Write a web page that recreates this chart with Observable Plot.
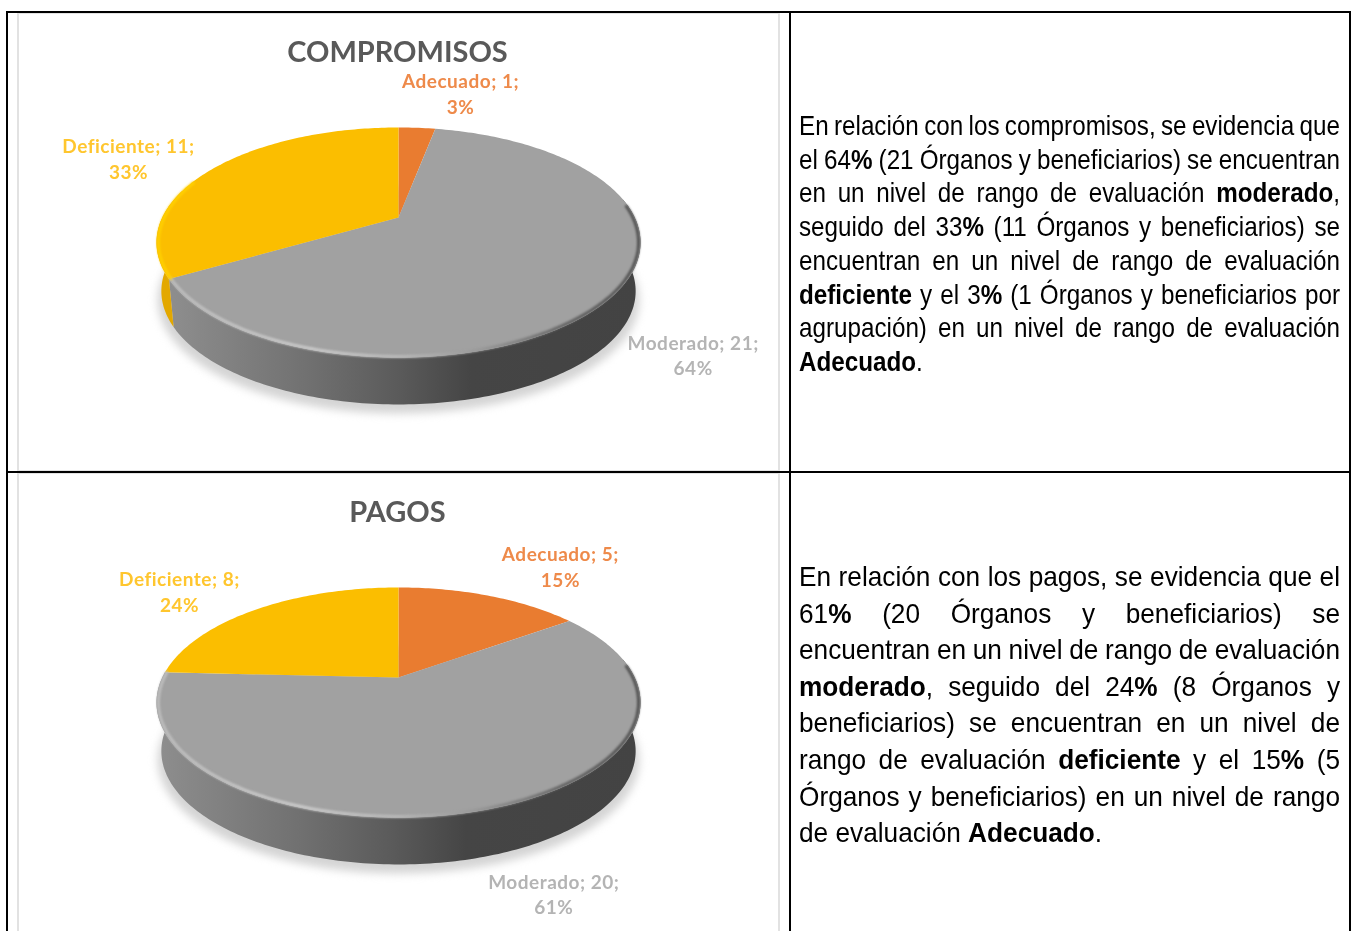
<!DOCTYPE html>
<html lang="es"><head><meta charset="utf-8">
<script src="https://cdn.jsdelivr.net/npm/d3@7"></script>
<script src="https://cdn.jsdelivr.net/npm/@observablehq/plot@0.6"></script>
<style>
html,body{margin:0;padding:0;background:#fff;overflow:hidden}
#page{position:relative;width:1351px;height:931px;overflow:hidden;background:#fff}
.rule{position:absolute;background:#000}
.frame{position:absolute;box-sizing:border-box;border:2px solid #e2e2e2}
.txt{position:absolute;left:799px;transform-origin:0 0;font-family:"Liberation Sans",sans-serif;color:#000;filter:blur(.3px)}
.txt div{text-align:justify;text-align-last:justify;white-space:nowrap}
.txt div.last{text-align-last:left}
</style></head><body>
<div id="page"></div>
<script>
const categories = ["Adecuado", "Moderado", "Deficiente"];
const compromisosValues = [1, 21, 11];
const compromisosPct = [3, 64, 33];
const pagosValues = [5, 20, 8];
const pagosPct = [15, 61, 24];
const sliceColors = ["#E97C30", "#A1A1A1", "#FBBE00"];
const labelColors = ["#EE8A4A", "#B4B4B4", "#FFC62E"];
const compromisosLabelShift = [[43.6, 34.8], [74.5, -64], [-85.5, 10.1]];
const pagosLabelShift = [[71.2, 29.8], [71.2, -82.8], [-78.2, 17.9]];

const compromisosText = [
 'En relación con los compromisos, se evidencia que',
 'el 64<b>%</b> (21 Órganos y beneficiarios) se encuentran',
 'en un nivel de rango de evaluación <b>moderado</b>,',
 'seguido del 33<b>%</b> (11 Órganos y beneficiarios) se',
 'encuentran en un nivel de rango de evaluación',
 '<b>deficiente</b> y el 3<b>%</b> (1 Órganos y beneficiarios por',
 'agrupación) en un nivel de rango de evaluación',
 '<b>Adecuado</b>.'];
const pagosText = [
 'En relación con los pagos, se evidencia que el',
 '61<b>%</b> (20 Órganos y beneficiarios) se',
 'encuentran en un nivel de rango de evaluación',
 '<b>moderado</b>, seguido del 24<b>%</b> (8 Órganos y',
 'beneficiarios) se encuentran en un nivel de',
 'rango de evaluación <b>deficiente</b> y el 15<b>%</b> (5',
 'Órganos y beneficiarios) en un nivel de rango',
 'de evaluación <b>Adecuado</b>.'];

// perspective disc: x/y are in plot units (1 unit = 1px), origin at the pie's apex
const A = 236.2, B = 109.6, K = 0.2174, DROP = 49, SHRINK = 0.98;
const rad = t => t * Math.PI / 180;
function proj(t, bottom = false, scale = 1) {
  const X = Math.sin(rad(t)), Y = Math.cos(rad(t)), w = 1 + K * Y;
  const s = scale;
  return {x: (bottom ? SHRINK : 1) * s * A * X / w, y: (bottom ? 0.985 : 1) * s * B * Y / w - (bottom ? DROP : 0)};
}
const arc = (a, b, bottom, scale) => {
  const n = Math.max(2, Math.ceil(Math.abs(b - a)));
  return d3.range(n + 1).map(i => proj(a + (b - a) * i / n, bottom, scale));
};
const blur = r => (i, s, v, d, c, next) => { const g = next(i, s, v, d, c); g.style.filter = `blur(${r}px)`; return g; };
const spaced = (i, s, v, d, c, next) => { const g = next(i, s, v, d, c); g.style.letterSpacing = ".5px"; return g; };

function pie(title, values, pct, shifts, id, top) {
  const total = d3.sum(values);
  const cum = d3.cumsum(values);
  const ang = values.map((v, i) => [(cum[i] - v) / total * 360, cum[i] / total * 360]);
  const marks = [];
  marks.push(() => {
    const ns = "http://www.w3.org/2000/svg";
    const defs = document.createElementNS(ns, "defs");
    const grad = (gid, stops) => {
      const g = document.createElementNS(ns, "linearGradient");
      g.setAttribute("id", gid);
      stops.forEach(([o, c]) => {
        const st = document.createElementNS(ns, "stop");
        st.setAttribute("offset", o); st.setAttribute("stop-color", c); g.appendChild(st);
      });
      defs.appendChild(g);
    };
    grad("wall" + id, [[0, "#8e8e8e"], [.3, "#707070"], [.49, "#5a5a5a"], [.64, "#454545"], [1, "#434343"]]);
    grad("rim" + id, [[0, "#bdbdbd"], [.3, "#cbcbcb"], [.5, "#b8b8b8"], [.66, "#989898"], [.84, "#626262"], [1, "#505050"]]);
    return defs;
  });
  // soft shadow under the disc
  const shadow = arc(0, 360, true).map(p => ({x: p.x * 1.015, y: p.y - 9}));
  marks.push(Plot.line(shadow, {x: "x", y: "y", fill: "#d4d4d4", stroke: "none", render: blur(4)}));
  // side walls
  const gray = ang[1];
  const wallFrom = Math.max(gray[0], 80);
  const rimFrom = Math.max(gray[0], 84);
  marks.push(Plot.line([...arc(wallFrom, gray[1]), ...arc(gray[1], wallFrom, true)],
    {x: "x", y: "y", fill: `url(#wall${id})`, stroke: "none"}));
  if (gray[1] < 262) {
    marks.push(Plot.line([...arc(gray[1], 285), ...arc(285, gray[1], true)],
      {x: "x", y: "y", fill: "#E3A800", stroke: "none"}));
  }
  // top faces
  ang.forEach(([a, b], i) => {
    marks.push(Plot.line([{x: 0, y: 0}, ...arc(a, b)], {x: "x", y: "y", fill: sliceColors[i], stroke: "none"}));
  });
  // bevel along the visible edge, kept just inside the disc
  marks.push(Plot.line(arc(gray[1], rimFrom, false, 0.992), {x: "x", y: "y", stroke: `url(#rim${id})`, strokeWidth: 3, render: blur(1.2)}));
  if (gray[1] < 262) {
    marks.push(Plot.line(arc(gray[1], 290, false, 0.992), {x: "x", y: "y", stroke: "#FFD000", strokeWidth: 3, render: blur(.8)}));
  }
  // labels
  const labels = categories.map((c, i) => {
    const p = proj((ang[i][0] + ang[i][1]) / 2);
    return {x: p.x + shifts[i][0], y: p.y + shifts[i][1], text: `${c}; ${values[i]};\n${pct[i]}%`, color: labelColors[i]};
  });
  marks.push(Plot.text(labels, {x: "x", y: "y", text: "text", fill: "color", fontSize: 19, fontWeight: 700, lineHeight: 1.34, lineAnchor: "middle", textAnchor: "middle", render: spaced}));
  marks.push(Plot.text([title], {x: () => -1, y: () => 164.5, text: d => d, fontSize: 29, fontWeight: 700, fill: "#595959", lineAnchor: "middle", textAnchor: "middle"}));

  return Plot.plot({
    width: 760, height: 458, margin: 0,
    x: {domain: [-380, 380], range: [0, 760], axis: null},
    y: {domain: [204, -254], range: [0, 458], axis: null},
    style: {position: "absolute", left: "18px", top: top + "px", background: "transparent", fontFamily: "Lato, sans-serif", filter: "blur(.45px)"},
    marks
  });
}

const page = document.getElementById("page");
const addDiv = (cls, l, t, w, h) => {
  const e = document.createElement("div");
  e.className = cls;
  e.style.cssText = `left:${l}px;top:${t}px;width:${w}px;height:${h}px`;
  page.appendChild(e);
};
addDiv("frame", 17, 12, 763, 460);
addDiv("frame", 17, 472, 763, 461);
page.appendChild(pie("COMPROMISOS", compromisosValues, compromisosPct, compromisosLabelShift, "a", 13));
page.appendChild(pie("PAGOS", pagosValues, pagosPct, pagosLabelShift, "b", 473));
addDiv("rule", 6, 11, 1345, 2);
addDiv("rule", 7, 471, 1344, 2);
addDiv("rule", 6, 11, 2, 920);
addDiv("rule", 789, 11, 2, 920);
addDiv("rule", 1349, 11, 2, 920);

function block(lines, top, lh, size, sx) {
  const avail = 541 / sx;
  const t = document.createElement("div");
  t.className = "txt";
  t.style.cssText = `top:${top}px;line-height:${lh}px;font-size:${size}px;width:${avail}px;transform:scaleX(${sx})`;
  page.appendChild(t);
  lines.forEach((l, i) => {
    const d = document.createElement("div");
    if (i === lines.length - 1) d.className = "last";
    const s = document.createElement("span");
    s.innerHTML = l;
    d.appendChild(s);
    t.appendChild(d);
    // Word's tight justified lines: squeeze the spaces when the line is too long
    const natural = s.getBoundingClientRect().width / sx;
    const gaps = s.textContent.split(" ").length - 1;
    if (natural > avail && gaps) d.style.wordSpacing = (avail - natural) / gaps + "px";
  });
}
block(compromisosText, 109, 33.7, 28, .865);
block(pagosText, 558, 36.6, 28.5, .92);
</script>
</body></html>
